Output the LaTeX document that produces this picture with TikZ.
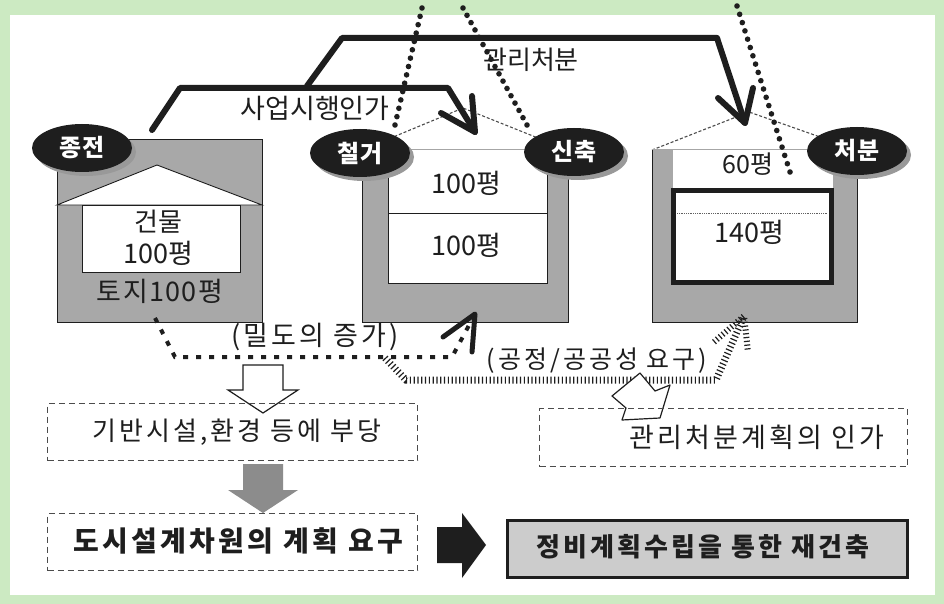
\documentclass[tikz,border=0pt]{standalone}
\usepackage{fontspec}
\setmainfont{Noto Sans CJK KR}
\newfontfamily\kw{Noto Sans CJK KR}[LetterSpace=12]
\newfontfamily\kn{Noto Sans CJK KR}[LetterSpace=5]
\usetikzlibrary{shapes.geometric,shadows,calc}
\definecolor{bggreen}{RGB}{204,234,194}
\definecolor{boxgrey}{RGB}{168,168,168}
\definecolor{ink}{RGB}{30,30,30}
\begin{document}
\begin{tikzpicture}[x=1pt,y=-1pt,
  greybox/.style={fill=boxgrey,draw=ink,line width=1pt},
  whitebox/.style={fill=white,draw=ink,line width=0.9pt},
  roof/.style={draw=ink!80,line width=1.1pt,densely dashed},
  oval/.style={ellipse,fill=ink,text=white,minimum width=100pt,minimum height=48pt,inner sep=0pt,
    font=\fontsize{24}{26}\selectfont\bfseries,
    drop shadow={shadow xshift=4pt,shadow yshift=-4pt,fill=black!40,opacity=1}},
  lbl/.style={inner sep=0pt,text=ink,font=\fontsize{26}{28}\selectfont},
  wide/.style={inner sep=0pt,text=ink,font=\kw\fontsize{26}{28}\selectfont},
  bigarrow/.style={draw=ink,line width=6pt,line join=round,line cap=round},
  bigdots/.style={draw=ink,line width=4pt,dash pattern=on 5pt off 8pt},
  hatch/.style={draw=ink,line width=7pt,dash pattern=on 1.2pt off 2.6pt},
  dashbox/.style={draw=ink!80,line width=1.2pt,dash pattern=on 6pt off 4pt}
]
\useasboundingbox (0,0) rectangle (944,604);
\fill[bggreen] (0,0) rectangle (944,604);
\fill[white] (10,15) rectangle (935,595);

% ---------- box 1 ----------
\draw[greybox] (57,140) rectangle (262,322);
\draw[whitebox] (57,205) -- (157,165) -- (262,205) -- cycle;
\draw[whitebox] (82,205) rectangle (240,272);
\node[lbl] (b1a) at (158,222) {건물};
\node[lbl,font=\fontsize{27}{29}\selectfont] (b1b) at (158,253) {100평};
\node[lbl,font=\kn\fontsize{27}{29}\selectfont] (b1c) at (160,291) {토지100평};
\node[oval] (jongjeon) at (82,148) {종전};

% ---------- box 2 ----------
\draw[roof] (362,150) -- (463,108) -- (568,150);
\draw[greybox] (362,150) rectangle (568,322);
\fill[white] (388,150) rectangle (547,283);
\draw[ink,line width=0.9pt] (388,150) -- (388,283) -- (547,283) -- (547,150);
\draw[ink,line width=0.9pt] (388,213) -- (547,213);
\draw[black!35,line width=1pt] (362,150) -- (568,150);
\node[lbl,font=\fontsize{27}{29}\selectfont] (b2a) at (466,183) {100평};
\node[lbl,font=\fontsize{27}{29}\selectfont] (b2b) at (466,245) {100평};
\node[oval] (cheolgeo) at (360,153) {철거};
\node[oval] (sinchuk) at (574,152) {신축};

% ---------- box 3 ----------
\draw[roof] (652,150) -- (749,112) -- (857,150);
\draw[greybox] (652,150) rectangle (857,322);
\fill[white] (673,150) rectangle (833,283);
\draw[black!35,line width=1pt] (652,150) -- (857,150);
\draw[ink,line width=5pt,fill=white] (673,190) rectangle (831,282);
\draw[ink!70,line width=0.8pt,densely dotted] (677,213) -- (828,213);
\node[lbl,font=\fontsize{25}{27}\selectfont] (b3a) at (748,164) {60평};
\node[lbl,font=\fontsize{27}{29}\selectfont] (b3b) at (749,232) {140평};
\node[oval] (cheobun) at (857,151) {처분};

% ---------- top arrows ----------
\coordinate (s0) at (152,130);
\coordinate (s1) at (180,88);
\coordinate (s2) at (448,88);
\coordinate (s3) at (475,132);
\coordinate (sl) at (441,113);
\coordinate (sr) at (472,96);
\draw[bigarrow] (s0) -- (s1) -- (s2) -- (s3);
\draw[bigarrow] (sl) -- (s3) -- (sr);
\node[lbl,font=\fontsize{27}{29}\selectfont] (saeop) at (315,108) {사업시행인가};

\coordinate (k0) at (307,86);
\coordinate (k1) at (342,38);
\coordinate (k2) at (717,38);
\coordinate (k3) at (745,123);
\coordinate (kl) at (718,98);
\coordinate (kr) at (753,88);
\draw[bigarrow] (k0) -- (k1) -- (k2) -- (k3);
\draw[bigarrow] (kl) -- (k3) -- (kr);
\node[lbl] (gwanri) at (531,60) {관리처분};

% ---------- dotted lines to top ----------
\coordinate (c1) at (395,125);
\coordinate (c2) at (527,125);
\coordinate (c3) at (790,172);
\coordinate (t1) at (422,8);
\coordinate (t2) at (463,8);
\coordinate (t3) at (737,6);
\foreach \a/\b/\n in {c1/t1/14,c2/t2/16,c3/t3/20}{
  \foreach \i in {0,...,\n}{
    \pgfmathsetmacro\ff{\i/\n}
    \fill[ink] ($(\a)!\ff!(\b)$) circle (2.8pt);
  }
}

% ---------- density dotted arrow ----------
\coordinate (d0) at (155,318);
\coordinate (d1) at (175,357);
\coordinate (d2) at (452,357);
\coordinate (d3) at (475,314);
\draw[bigdots] (d0) -- (d1) -- (d2) -- (d3);
\draw[bigarrow,line width=5pt] (443,337) -- (d3) -- (472,352);
\node[wide,font=\kw\fontsize{27}{29}\selectfont] (mildo) at (315,337) {(밀도의 증가)};

% ---------- hatched arrow ----------
\coordinate (h0) at (385,358);
\coordinate (h1) at (406,380);
\coordinate (h2) at (716,380);
\coordinate (h3) at (744,316);
\draw[hatch] (h0) -- (h1) -- (h2) -- (h3);
\draw[hatch,line width=6pt] (714,342) -- (h3) -- (748,352);
\node[wide,font=\kw\fontsize{25}{27}\selectfont] (gongjeong) at (597,361) {(공정/공공성 요구)};

% ---------- callout scribble ----------
\draw[ink,line width=1.2pt,fill=white,line join=round]
  (640,373) -- (612,396) -- (626,408) -- (622,420) -- (660,418) -- (670,385) -- (655,391) -- cycle;

% ---------- left column ----------
\draw[ink,line width=1.2pt,fill=white] (243,365) -- (283,365) -- (283,390) -- (298,390) -- (263,413) -- (228,390) -- (243,390) -- cycle;
\node[dashbox,minimum width=370pt,minimum height=57pt,anchor=north west] (gibang) at (47,403) {};
\node[wide] at (237,432) {기반시설,환경 등에 부당};
\fill[black!45] (243,464) -- (283,464) -- (283,490) -- (298,490) -- (263,513) -- (228,490) -- (243,490) -- cycle;
\node[dashbox,minimum width=370pt,minimum height=57pt,anchor=north west] (dosi) at (47,513) {};
\node[wide,font=\kw\fontsize{28}{30}\selectfont\bfseries] at (238,541) {도시설계차원의 계획 요구};

% ---------- right column ----------
\node[dashbox,minimum width=368pt,minimum height=58pt,anchor=north west] (inga) at (539,408) {};
\node[wide,font=\kw\fontsize{27}{29}\selectfont] at (757,437) {관리처분계획의 인가};
\fill[ink] (437,527) -- (462,527) -- (462,513) -- (486,545) -- (462,578) -- (462,563) -- (437,563) -- cycle;
\node[draw=ink,line width=3pt,fill=black!20,minimum width=400pt,minimum height=57pt,anchor=north west] (jaegeon) at (506,519) {};
\node[wide,font=\kw\fontsize{26}{28}\selectfont\bfseries] at (703,547) {정비계획수립을 통한 재건축};
\end{tikzpicture}
\end{document}
